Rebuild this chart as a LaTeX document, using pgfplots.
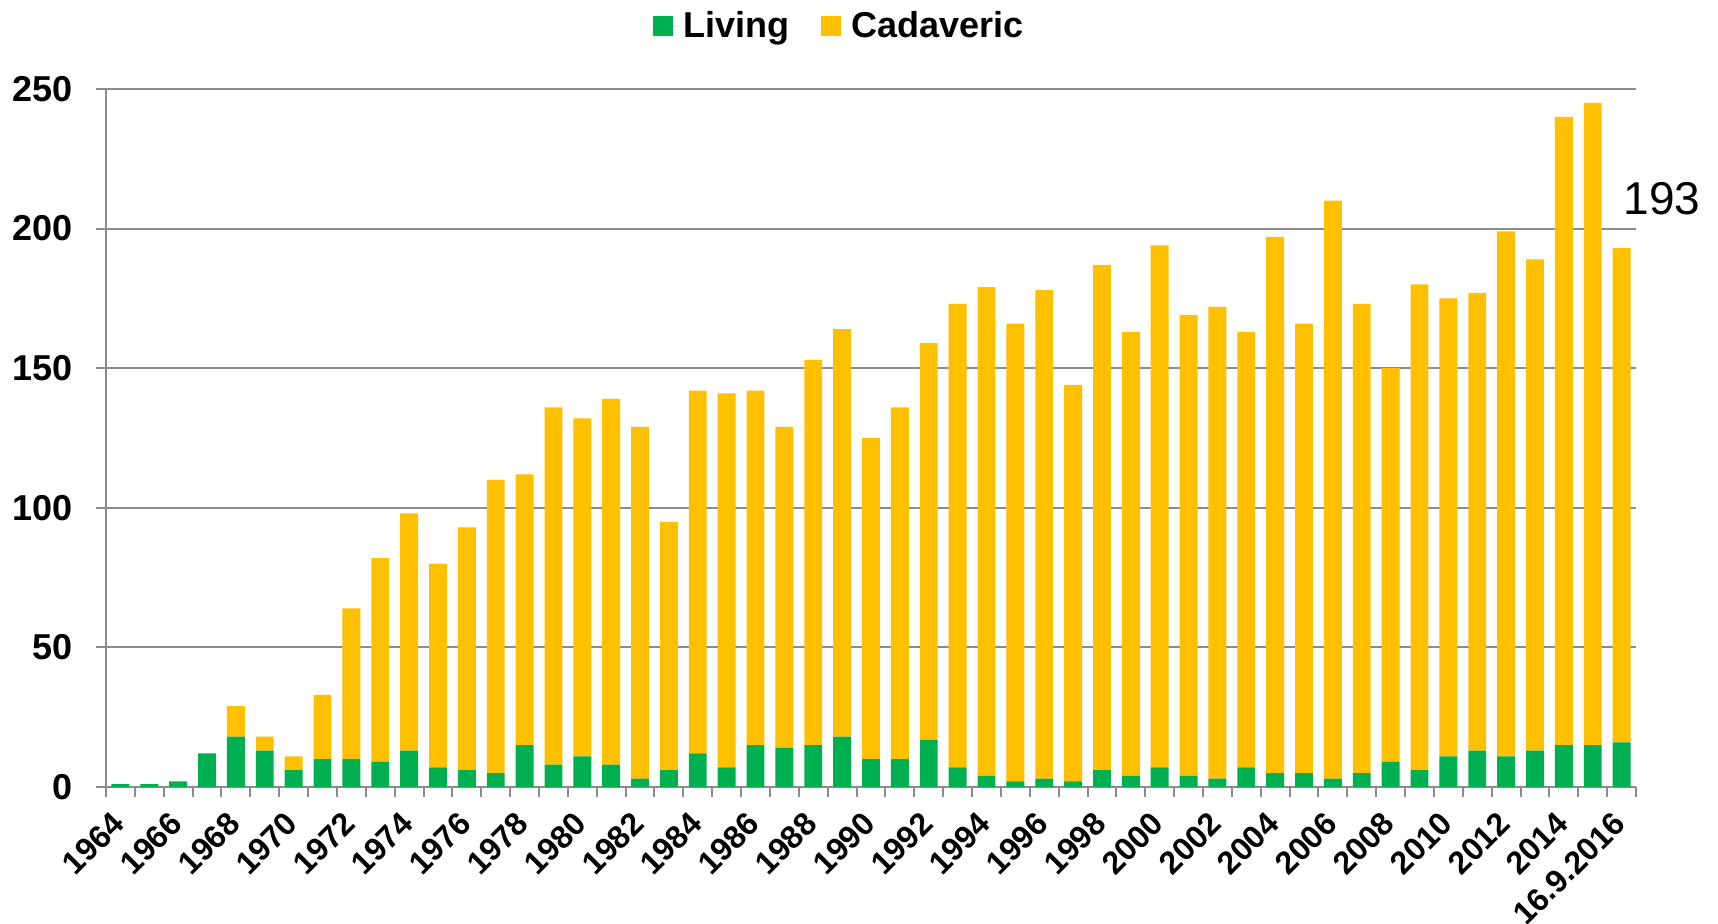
\documentclass[border=0pt]{standalone}
\usepackage{pgfplots}
\pgfplotsset{compat=1.18}
\usepackage{pgfplotstable}
\usepackage{fontspec}
\setmainfont{Liberation Sans}
\definecolor{living}{HTML}{00B050}
\definecolor{cadav}{HTML}{FFC000}
\definecolor{gridgray}{HTML}{8C8C8C}

% idx = year - 1964 (last bar: 16.9.2016)
\pgfplotstableread{
idx living cadaveric
0 1 0
1 1 0
2 2 0
3 12 0
4 18 11
5 13 5
6 6 5
7 10 23
8 10 54
9 9 73
10 13 85
11 7 73
12 6 87
13 5 105
14 15 97
15 8 128
16 11 121
17 8 131
18 3 126
19 6 89
20 12 130
21 7 134
22 15 127
23 14 115
24 15 138
25 18 146
26 10 115
27 10 126
28 17 142
29 7 166
30 4 175
31 2 164
32 3 175
33 2 142
34 6 181
35 4 159
36 7 187
37 4 165
38 3 169
39 7 156
40 5 192
41 5 161
42 3 207
43 5 168
44 9 141
45 6 174
46 11 164
47 13 164
48 11 188
49 13 176
50 15 225
51 15 230
52 16 177
}\donors

\begin{document}
\begin{tikzpicture}
\useasboundingbox (-53pt,-68.5pt) rectangle (806pt,393.5pt);
\begin{axis}[
  scale only axis, width=765pt, height=349pt,
  ybar stacked, bar width=0.62,
  xmin=-0.5, xmax=52.5,
  ymin=0, ymax=250,
  ytick={0,50,...,250},
  xtick={0,2,...,52},
  xticklabels={1964,1966,1968,1970,1972,1974,1976,1978,1980,1982,1984,1986,1988,1990,1992,1994,1996,1998,2000,2002,2004,2006,2008,2010,2012,2014,16.9.2016},
  minor xtick={-0.5,0.5,...,52.5},
  major x tick style={draw=none},
  minor x tick style={gridgray, line width=1pt},
  tick label style={font=\bfseries\fontsize{18}{20}\selectfont},
  x tick label style={rotate=45, anchor=north east, inner sep=1pt, yshift=0pt, xshift=-7pt,
    font=\bfseries\fontsize{16}{18}\selectfont},
  yticklabel style={xshift=-8pt},
  /pgf/number format/assume math mode=true,
  tick align=outside, major tick length=5pt, minor tick length=5pt,
  tick style={gridgray, line width=1pt},
  axis x line*=bottom, axis y line*=left,
  axis line style={gridgray, line width=1pt},
  ymajorgrids, grid style={gridgray, line width=1pt},
  clip=false,
  legend columns=2,
  legend style={at={(0.48,1)}, anchor=south, yshift=20pt, draw=none, fill=none,
    font=\bfseries\fontsize{18}{20}\selectfont,
    /tikz/every even column/.append style={column sep=14pt}},
  legend image code/.code={\fill[#1] (0pt,-5pt) rectangle (10pt,5pt); \path (0pt,0pt) -- (13pt,0pt);},
]
\addplot[fill=living, draw=none] table[x=idx, y=living] {\donors};
\addlegendentry{Living}
\addplot[fill=cadav, draw=none] table[x=idx, y=cadaveric] {\donors};
\addlegendentry{Cadaveric}
\node[font=\fontsize{23}{25}\selectfont] at (axis cs:53.4,210.6) {193};
\end{axis}
\end{tikzpicture}
\end{document}
